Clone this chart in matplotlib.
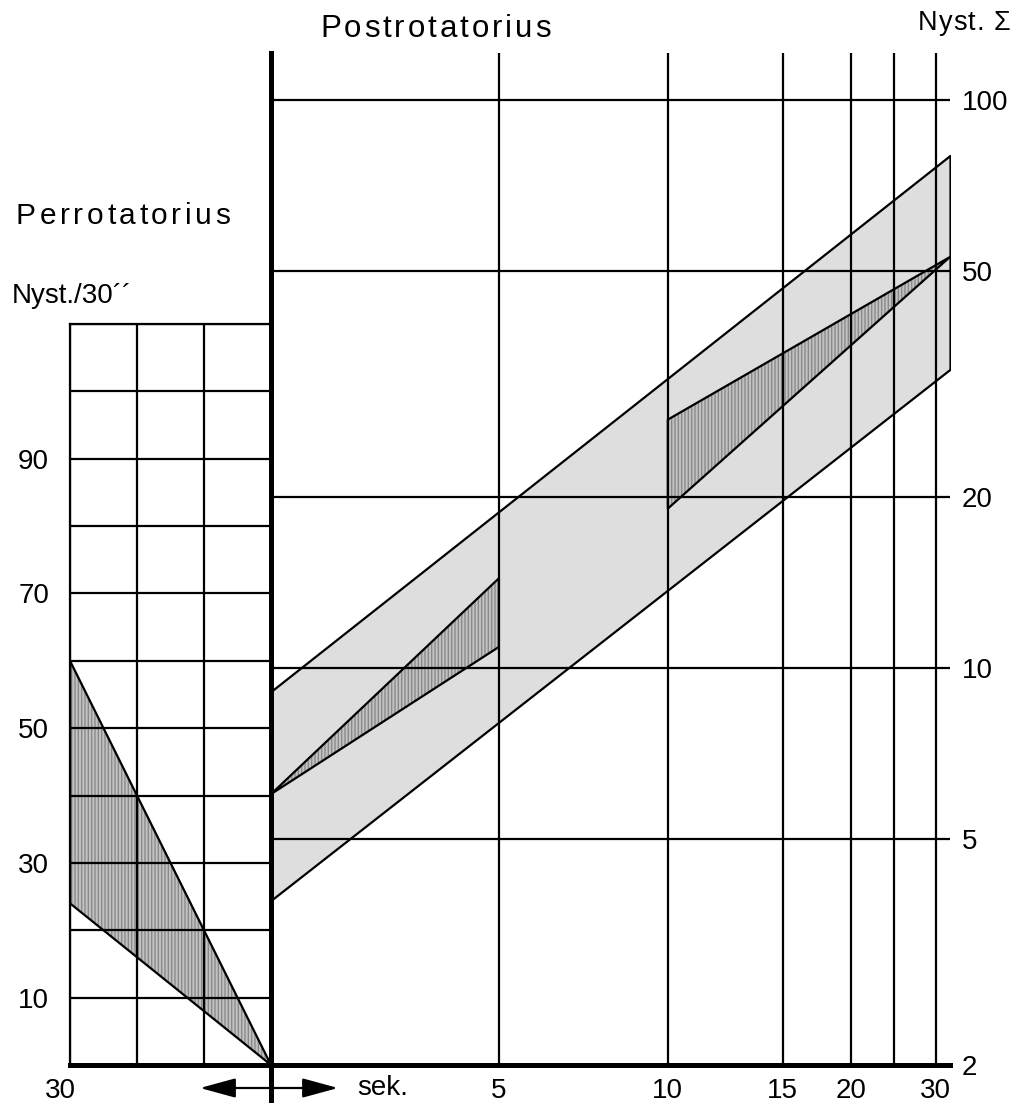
import numpy as np
import matplotlib
matplotlib.use("Agg")
import matplotlib.pyplot as plt
from matplotlib.font_manager import FontProperties
from matplotlib.transforms import ScaledTranslation

plt.rcParams["font.family"] = ["Liberation Sans", "DejaVu Sans"]
plt.rcParams["hatch.linewidth"] = 1.0

# Perrotatorius: seconds (30 -> 0) against Nyst./30''
perro_t = [30, 0, 30]
perro_nyst = [60, 0, 24]
perro_ticks = list(range(0, 111, 10))
perro_labels = [str(v) if v in (10, 30, 50, 70, 90) else "" for v in perro_ticks]
perro_t_ticks = [30, 20, 10, 0]
perro_t_labels = ["30", "", "", ""]

# Postrotatorius: seconds after stop against Nyst. sum (log)
post_ticks = [5, 10, 15, 20, 25, 30]
post_labels = ["5", "10", "15", "20", "", "30"]
sum_ticks = [2, 5, 10, 20, 50, 100]
sum_labels = ["2", "5", "10", "20", "50", "100"]

t_end = 31.7
band_t = [0, t_end]
band_low = [3.9, 33.6]
band_high = [9.1, 80]

early_t = [0, 5]
early_low = [6, 10.9]
early_high = [6, 14.4]

late_t = [10, t_end]
late_low = [19.1, 53]
late_high = [27.4, 53]

# the time axis of the original is drawn by hand, these knots copy its spacing
scale_t = [0, 5, 10, 15, 20, 25, 30, 35]
scale_u = [0, 228, 397, 512, 580, 623, 665, 707]


def fwd(t):
    return np.interp(t, scale_t, scale_u)


def inv(u):
    return np.interp(u, scale_u, scale_t)


W, H = 1016, 1106
LW = 1.6
THICK = 3.6
LIGHT = "#dedede"
DARK = "#c2c2c2"
STRIPE = "#8a8a8a"
FS = 20

fig = plt.figure(figsize=(W / 100, H / 100), dpi=100)


def px_axes(x0, y0, x1, y1):
    # pixel box measured from the top left corner
    return fig.add_axes([x0 / W, 1 - y1 / H, (x1 - x0) / W, (y1 - y0) / H])


def striped(ax, x, lo, hi):
    # darker areas: vertical stripes, then a black outline on top
    ax.fill_between(x, lo, hi, facecolor=DARK, edgecolor=STRIPE, hatch="|||||", lw=0, zorder=1.2)
    ax.fill_between(x, lo, hi, facecolor="none", edgecolor="black", lw=LW, zorder=1.3)


# ---- left panel
axl = px_axes(70, 324, 271, 1065)
axl.set_xlim(30, 0)
axl.set_ylim(0, 110)
axl.fill(perro_t, perro_nyst, facecolor=DARK, edgecolor=STRIPE, hatch="|||||", lw=0, zorder=1.2)
axl.fill(perro_t, perro_nyst, facecolor="none", edgecolor="black", lw=LW, zorder=1.3)
axl.set_xticks(perro_t_ticks, labels=perro_t_labels)
axl.set_yticks(perro_ticks, labels=perro_labels)
axl.grid(True, color="black", lw=LW)
axl.set_axisbelow(False)
axl.tick_params(length=0, labelsize=FS)
axl.tick_params(axis="y", pad=15)
axl.tick_params(axis="x", pad=9)
axl.spines["right"].set_visible(False)
for s in ["left", "top"]:
    axl.spines[s].set_linewidth(LW)
axl.spines["bottom"].set_linewidth(THICK)
lab30 = axl.get_xticklabels()[0]
lab30.set_transform(lab30.get_transform() + ScaledTranslation(-0.1, 0, fig.dpi_scale_trans))

# ---- right panel
axr = px_axes(271, 53, 950, 1065)
axr.set_xscale("function", functions=(fwd, inv))
axr.set_yscale("log")
axr.set_xlim(0, t_end)
axr.set_ylim(2, 121.2)

axr.fill_between(band_t, band_low, band_high, facecolor=LIGHT, edgecolor="black", lw=LW, zorder=1)
striped(axr, early_t, early_low, early_high)
striped(axr, late_t, late_low, late_high)

axr.set_xticks(post_ticks, labels=post_labels)
axr.set_yticks(sum_ticks, labels=sum_labels)
axr.minorticks_off()
axr.yaxis.tick_right()
axr.grid(True, color="black", lw=LW)
axr.set_axisbelow(False)
axr.tick_params(length=0, labelsize=FS)
axr.tick_params(axis="y", pad=8.5)
axr.tick_params(axis="x", pad=9)
for s in ["top", "right", "left"]:
    axr.spines[s].set_visible(False)
axr.spines["bottom"].set_linewidth(THICK)
# thick divider between the two panels, it runs down past the axis
axr.axvline(0, ymin=-0.035, ymax=1, color="black", lw=THICK, clip_on=False, zorder=5)

# ---- arrows and texts under the axis
arrow = dict(arrowstyle="-|>,head_length=1.1,head_width=0.3", color="black",
             lw=LW, mutation_scale=20, shrinkA=0, shrinkB=0)
fig.add_artist(matplotlib.patches.FancyArrowPatch(
    (272 / W, 1 - 1088 / H), (200 / W, 1 - 1088 / H), transform=fig.transFigure, **arrow))
fig.add_artist(matplotlib.patches.FancyArrowPatch(
    (272 / W, 1 - 1088 / H), (338 / W, 1 - 1088 / H), transform=fig.transFigure, **arrow))
fig.text(357 / W, 1 - 1088 / H, "sek.", fontsize=FS, va="center", ha="left")


def spaced_text(x, y, s, size, gap):
    # letter spaced text, x = left edge, y = baseline, both in pixels from top left
    r = fig.canvas.get_renderer()
    fp = FontProperties(family=["Liberation Sans", "DejaVu Sans"], size=size)
    for i, ch in enumerate(s):
        w = r.get_text_width_height_descent(s[:i], fp, ismath=False)[0] if i else 0
        fig.text((x + w + i * gap) / W, 1 - y / H, ch, fontproperties=fp,
                 ha="left", va="baseline")


spaced_text(320, 37, "Postrotatorius", 22.5, 2.9)
spaced_text(16, 224, "Perrotatorius", 21.5, 3.6)
spaced_text(918, 30, "Nyst. \u03a3", 19.5, 1)
fig.text(12 / W, 1 - 303 / H, "Nyst./30\u00b4\u00b4", fontsize=FS, ha="left", va="baseline")

plt.savefig("out.png", dpi=100)
